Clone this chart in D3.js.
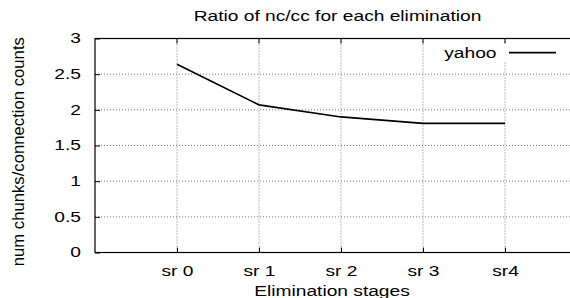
<!DOCTYPE html>
<html>
<head>
<meta charset="utf-8">
<script src="https://cdn.jsdelivr.net/npm/d3@7"></script>
<style>
body { margin: 0; background: #fff; overflow: hidden; }
text { font-family: "Liberation Sans", Arial, sans-serif; fill: #000; }
</style>
</head>
<body>
<div id="chart"></div>
<script>
// chart data
var stages = ["sr 0", "sr 1", "sr 2", "sr 3", "sr4"];
var yahoo = [2.64, 2.07, 1.90, 1.81, 1.81];
var yTicks = [0, 0.5, 1, 1.5, 2, 2.5, 3];

var svgWidth = 570;
var svgHeight = 298;
var margins = { top: 38.5, right: -17, bottom: 45.5, left: 95 };
var chartWidth = svgWidth - margins.left - margins.right;
var chartHeight = svgHeight - margins.top - margins.bottom;
// the text in the picture is stretched sideways
var stretch = "scale(1.37,1)";

var svg = d3.select("#chart").append("svg")
    .attr("width", svgWidth)
    .attr("height", svgHeight)
    .style("display", "block");

var chartGroup = svg.append("g")
    .attr("transform", `translate(${margins.left}, ${margins.top})`);

// x is index based, one empty slot each side
var xscale = d3.scaleLinear().domain([-1, stages.length]).range([0, chartWidth]);
var yscale = d3.scaleLinear().domain([0, 3]).range([chartHeight, 0]);

// dotted grid
chartGroup.append("g").selectAll("line")
    .data(yTicks.filter(d => d > 0 && d < 3))
    .enter().append("line")
    .attr("x1", 0).attr("x2", chartWidth)
    .attr("y1", d => yscale(d)).attr("y2", d => yscale(d))
    .attr("stroke", "#777").attr("stroke-width", 1)
    .attr("stroke-dasharray", "1,2");

chartGroup.append("g").selectAll("line")
    .data(stages)
    .enter().append("line")
    .attr("x1", (d, i) => xscale(i)).attr("x2", (d, i) => xscale(i))
    .attr("y1", 0).attr("y2", chartHeight)
    .attr("stroke", "#777").attr("stroke-width", 1)
    .attr("stroke-dasharray", "1,2");

// blank area behind the key
chartGroup.append("rect")
    .attr("x", 345).attr("y", 5)
    .attr("width", 140).attr("height", 18)
    .attr("fill", "#fff");

// axes, ticks pointing inwards
var yAxis = d3.axisLeft(yscale).tickValues(yTicks).tickSize(-5)
    .tickFormat(d3.format("~g"));
var xAxis = d3.axisBottom(xscale).tickValues(d3.range(stages.length)).tickSize(-5).tickPadding(14)
    .tickFormat(i => stages[i]);

var gy = chartGroup.append("g").call(yAxis);
var gx = chartGroup.append("g").attr("transform", `translate(0, ${chartHeight})`).call(xAxis);
[gx, gy].forEach(function(g) {
    g.select(".domain").remove();
    g.selectAll("line").attr("stroke", "#000");
    g.selectAll("text").style("font-size", "14px").style("font-family", "Liberation Sans, Arial, sans-serif");
});
gx.selectAll("text").attr("transform", stretch);
gy.selectAll("text").attr("x", 0).attr("transform", "translate(-14,0) " + stretch);

// mirrored ticks on top
chartGroup.append("g").selectAll("line")
    .data(stages)
    .enter().append("line")
    .attr("x1", (d, i) => xscale(i)).attr("x2", (d, i) => xscale(i))
    .attr("y1", 0).attr("y2", 5)
    .attr("stroke", "#000");

// frame
chartGroup.append("rect")
    .attr("width", chartWidth).attr("height", chartHeight)
    .attr("fill", "none").attr("stroke", "#000").attr("stroke-width", 1.2);

// data line
var line = d3.line()
    .x((d, i) => xscale(i))
    .y(d => yscale(d));

chartGroup.append("path")
    .datum(yahoo)
    .attr("d", line)
    .attr("fill", "none")
    .attr("stroke", "#000")
    .attr("stroke-width", 1.7);

// key
chartGroup.append("text")
    .attr("transform", `translate(401.5, 19.5) ${stretch}`)
    .attr("text-anchor", "end")
    .style("font-size", "14px")
    .text("yahoo");
chartGroup.append("line")
    .attr("x1", 414).attr("x2", 461)
    .attr("y1", 14.2).attr("y2", 14.2)
    .attr("stroke", "#000").attr("stroke-width", 1.7);

// titles
svg.append("text")
    .attr("transform", `translate(337.5, 20.7) ${stretch}`)
    .attr("text-anchor", "middle")
    .style("font-size", "14px")
    .text("Ratio of nc/cc for each elimination");

svg.append("text")
    .attr("transform", `translate(332, 296) ${stretch}`)
    .attr("text-anchor", "middle")
    .style("font-size", "14px")
    .text("Elimination stages");

svg.append("text")
    .attr("transform", "rotate(-90)")
    .attr("x", -151.7).attr("y", 24)
    .attr("text-anchor", "middle")
    .style("font-size", "16.7px")
    .text("num chunks/connection counts");
</script>
</body>
</html>
